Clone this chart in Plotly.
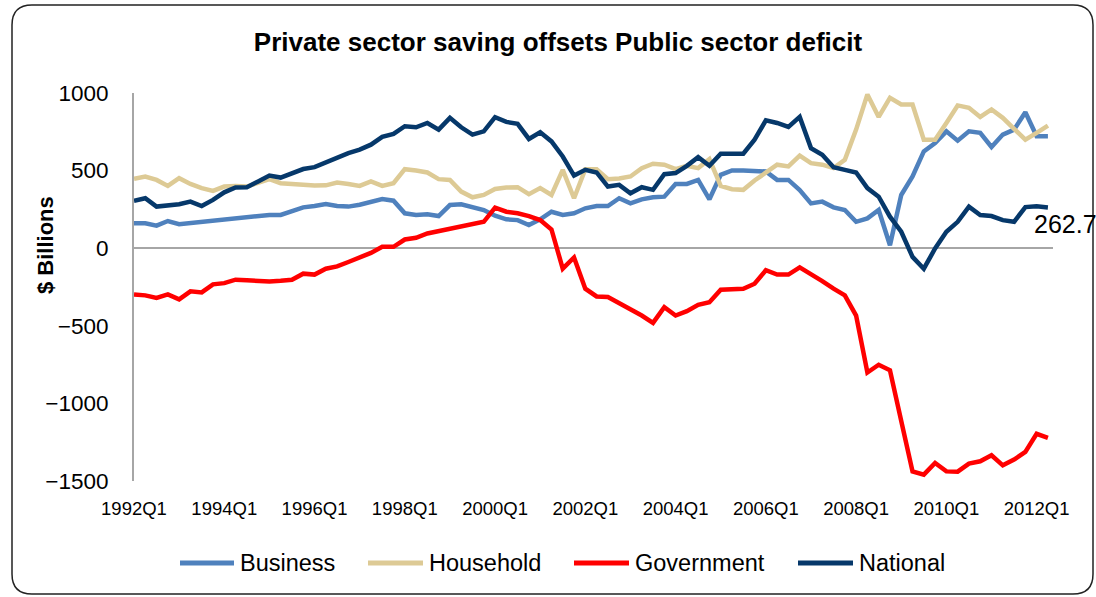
import plotly.graph_objects as go

# Quarterly sector balances, $ billions, 1992Q1 - 2012Q2
quarters = [f"{y}Q{q}" for y in range(1992, 2013) for q in range(1, 5)][:82]
tick_labels = [f"{y}Q1" for y in range(1992, 2013, 2)]

business = [160, 160, 145, 175, 155, 163, 173, 181, 186, 194,
            199, 207, 214, 214, 242, 263, 272, 285, 272, 268,
            280, 300, 317, 306, 225, 214, 218, 207, 278, 283,
            261, 246, 209, 186, 181, 149, 186, 235, 214, 225,
            257, 272, 272, 322, 289, 315, 328, 332, 414, 414,
            440, 315, 473, 501, 501, 498, 494, 440, 440, 375,
            289, 300, 263, 246, 170, 192, 246, 19, 343, 462,
            624, 678, 753, 693, 753, 743, 652, 732, 764, 876,
            721, 721]
household = [447, 462, 440, 401, 451, 414, 387, 369, 397, 401,
             397, 419, 445, 419, 412, 406, 404, 405, 423, 414,
             401, 430, 401, 419, 509, 501, 488, 445, 440, 365,
             328, 343, 382, 391, 393, 348, 387, 343, 505, 322,
             509, 509, 445, 449, 462, 516, 544, 538, 509, 531,
             516, 574, 401, 380, 376, 436, 484, 538, 527, 596,
             548, 538, 516, 570, 764, 991, 846, 969, 926, 926,
             699, 699, 807, 920, 905, 846, 894, 840, 769, 699,
             743, 790]
government = [-298, -304, -320, -298, -330, -278, -285, -233, -225, -203,
              -207, -214, -214, -210, -203, -164, -170, -132, -117, -89,
              -60, -30, 9, 9, 56, 67, 95, 110, 123, 138,
              149, 170, 261, 235, 225, 207, 181, 121, -132, -60,
              -261, -311, -315, -354, -391, -434, -481, -380, -434, -406,
              -365, -348, -268, -268, -261, -229, -142, -170, -170, -123,
              -164, -212, -261, -304, -434, -801, -751, -786, -1114, -1438,
              -1459, -1384, -1438, -1440, -1388, -1373, -1334, -1399, -1362, -1313,
              -1196, -1222]
national = [306, 322, 268, 272, 283, 300, 272, 311, 360, 391,
            393, 430, 468, 455, 479, 510, 522, 553, 585, 613,
            635, 667, 717, 736, 786, 779, 807, 764, 840, 779,
            732, 753, 844, 814, 801, 704, 747, 688, 591, 468,
            505, 488, 397, 408, 354, 393, 376, 477, 484, 531,
            587, 531, 609, 609, 609, 699, 824, 807, 782, 846,
            645, 602, 522, 505, 488, 387, 332, 203, 106, -56,
            -132, -2, 106, 170, 268, 214, 207, 181, 170, 265,
            270, 262.7]

series = [
    ("Business", business, "#4F81BD"),
    ("Household", household, "#DDCA95"),
    ("Government", government, "#FF0000"),
    ("National", national, "#06386A"),
]

FONT = "Liberation Sans, Arial, sans-serif"
FIG_W, FIG_H = 1096, 597
L, R, T, B = 134, 1053, 93, 481
W, H = R - L, B - T


def px(x):
    return (x - L) / W


def py(y):
    return (B - y) / H


fig = go.Figure()
for name, vals, color in series:
    fig.add_trace(go.Scatter(
        x=quarters, y=vals, name=name, mode="lines",
        line=dict(color=color, width=4.5), showlegend=False,
    ))

# Rounded chart-area border
r = 20
x0, y0, x1, y1 = 12, 5, 1093, 594
pts = [
    f"M {px(x0 + r)},{py(y0)}",
    f"L {px(x1 - r)},{py(y0)}",
    f"Q {px(x1)},{py(y0)} {px(x1)},{py(y0 + r)}",
    f"L {px(x1)},{py(y1 - r)}",
    f"Q {px(x1)},{py(y1)} {px(x1 - r)},{py(y1)}",
    f"L {px(x0 + r)},{py(y1)}",
    f"Q {px(x0)},{py(y1)} {px(x0)},{py(y1 - r)}",
    f"L {px(x0)},{py(y0 + r)}",
    f"Q {px(x0)},{py(y0)} {px(x0 + r)},{py(y0)} Z",
]
shapes = [dict(type="path", xref="paper", yref="paper", path=" ".join(pts),
               line=dict(color="#222222", width=1.5), layer="below")]

annotations = []
# Legend drawn below the plot
legend_pos = [(180, 234, 238), (368, 423, 427), (574, 629, 633), (798, 853, 857)]
ly = 563
for (name, _, color), (lx0, lx1, tx) in zip(series, legend_pos):
    shapes.append(dict(type="line", xref="paper", yref="paper",
                       x0=px(lx0), x1=px(lx1), y0=py(ly), y1=py(ly),
                       line=dict(color=color, width=5)))
    annotations.append(dict(xref="paper", yref="paper", x=px(tx), y=py(ly),
                            xanchor="left", yanchor="middle", showarrow=False,
                            text=name, font=dict(family=FONT, size=23.5, color="#000000")))

# Y-axis title
annotations.append(dict(xref="paper", yref="paper", x=px(45), y=py(245),
                        xanchor="center", yanchor="middle", showarrow=False,
                        textangle=-90, text="<b>$ Billions</b>",
                        font=dict(family=FONT, size=22, color="#000000")))

# Value label on the latest National point
annotations.append(dict(x=quarters[-1], y=national[-1], xref="x", yref="y",
                        xanchor="left", yanchor="middle", showarrow=False,
                        xshift=-16, yshift=-17, text=f"{national[-1]:.1f}",
                        font=dict(family=FONT, size=25, color="#000000")))

fig.update_layout(
    width=FIG_W, height=FIG_H,
    margin=dict(l=L, r=FIG_W - R, t=T, b=FIG_H - B),
    paper_bgcolor="white", plot_bgcolor="white",
    title=dict(text="<b>Private sector saving offsets Public sector deficit</b>",
               x=px(558), xref="paper", xanchor="center",
               y=1 - 42 / FIG_H, yref="container", yanchor="middle",
               font=dict(family=FONT, size=26, color="#000000")),
    shapes=shapes, annotations=annotations,
    xaxis=dict(type="category", range=[0, 81.45], showgrid=False, zeroline=False,
               showline=False, ticks="", tickvals=tick_labels, ticktext=tick_labels,
               ticklabelstandoff=14,
               tickfont=dict(family=FONT, size=18.5, color="#000000")),
    yaxis=dict(range=[-1500, 1000], tickvals=[-1500, -1000, -500, 0, 500, 1000],
               showgrid=False, zeroline=True, zerolinecolor="#A6A6A6", zerolinewidth=2,
               showline=True, linecolor="#A6A6A6", linewidth=2, ticks="",
               ticklabelstandoff=19,
               tickfont=dict(family=FONT, size=22.5, color="#000000")),
)

fig.write_html("out.html")
